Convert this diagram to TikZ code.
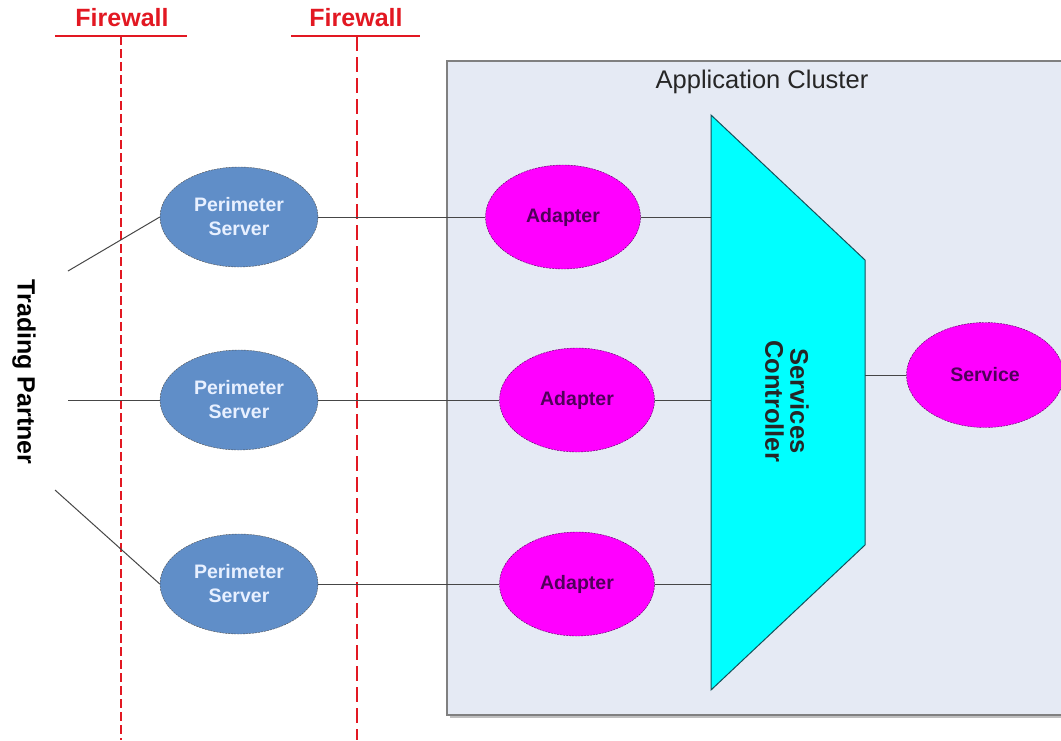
\documentclass[tikz,border=0pt]{standalone}
\usepackage{fontspec}
\setmainfont{Liberation Sans}
\usetikzlibrary{shapes.geometric}
\definecolor{fwred}{RGB}{226,24,34}
\definecolor{perifill}{RGB}{96,142,200}
\definecolor{peritext}{RGB}{232,240,255}
\definecolor{adfill}{RGB}{255,0,255}
\definecolor{adtext}{RGB}{80,0,90}
\definecolor{clfill}{RGB}{229,234,244}
\definecolor{clborder}{RGB}{128,128,128}
\definecolor{ctrlfill}{RGB}{0,255,255}
\definecolor{ctrlborder}{RGB}{20,80,90}
\definecolor{wire}{RGB}{70,70,70}
\tikzset{
  peri/.style={ellipse, draw=black!70, dash pattern=on 2pt off 1pt, fill=perifill,
    minimum width=158, minimum height=100, inner sep=0pt, text=peritext, align=center,
    font=\bfseries\fontsize{19.5}{24}\selectfont},
  adapt/.style={ellipse, draw=adtext, dash pattern=on 2pt off 1pt, fill=adfill,
    minimum width=155, minimum height=104, inner sep=0pt, text=adtext,
    font=\bfseries\fontsize{19.5}{24}\selectfont},
  wireline/.style={draw=wire, line width=1},
  fwlabel/.style={text=fwred, font=\bfseries\fontsize{25}{28}\selectfont},
}
\begin{document}
\begin{tikzpicture}[x=1pt,y=-1pt]
\useasboundingbox (0,0) rectangle (1061,740);
% cluster
\fill[black!25] (450,64) rectangle (1070,718);
\draw[draw=clborder, line width=1.5, fill=clfill] (447,61) rectangle (1070,715);
\node[font=\fontsize{25.5}{28}\selectfont, text=black!85] (cltitle) at (762,82) {Application Cluster};
% firewalls
\node[fwlabel] (fw1) at (122,18) {Firewall};
\node[fwlabel] (fw2) at (356,18) {Firewall};
\coordinate (fw1a) at (55,36); \coordinate (fw1b) at (187,36);
\coordinate (fw2a) at (291,36); \coordinate (fw2b) at (420,36);
\draw[fwred, line width=1.5] (fw1a) -- (fw1b);
\draw[fwred, line width=1.5] (fw2a) -- (fw2b);
\coordinate (fw1t) at (121,36); \coordinate (fw1e) at (121,740);
\coordinate (fw2t) at (357,36); \coordinate (fw2e) at (357,740);
\draw[fwred, line width=1.2, dash pattern=on 9pt off 4pt] (fw1t) -- (fw1e);
\draw[fwred, line width=2.5, dash pattern=on 15pt off 6pt] (fw2t) -- (fw2e);
% trading partner
\node[rotate=-90, font=\bfseries\fontsize{25}{28}\selectfont] (tp) at (24,372) {Trading Partner};
% perimeter servers
\node[peri] (p1) at (239,217) {Perimeter\\Server};
\node[peri] (p2) at (239,400) {Perimeter\\Server};
\node[peri] (p3) at (239,584) {Perimeter\\Server};
% adapters
\node[adapt] (a1) at (563,217) {Adapter};
\node[adapt] (a2) at (577,400) {Adapter};
\node[adapt] (a3) at (577,584) {Adapter};
% controller
\coordinate (c1) at (711,115);
\coordinate (c2) at (865,260);
\coordinate (c3) at (865,545);
\coordinate (c4) at (711,690);
\draw[draw=ctrlborder, line width=1, fill=ctrlfill] (c1) -- (c2) -- (c3) -- (c4) -- cycle;
\node[rotate=-90, align=center, font=\bfseries\fontsize{25.5}{25}\selectfont, text=black!85] (ctrl) at (787,401) {Services\\Controller};
% service
\node[adapt, minimum width=157, minimum height=105] (svc) at (985,375) {Service};
% connectors
\coordinate (t1) at (68,271);
\coordinate (t2) at (68,400);
\coordinate (t3) at (55,490);
\draw[wireline] (t1) -- (p1.west);
\draw[wireline] (t2) -- (p2.west);
\draw[wireline] (t3) -- (p3.west);
\draw[wireline] (p1.east) -- (a1.west);
\draw[wireline] (p2.east) -- (a2.west);
\draw[wireline] (p3.east) -- (a3.west);
\coordinate (k1) at (711,217);
\coordinate (k2) at (711,400);
\coordinate (k3) at (711,584);
\coordinate (k4) at (865,375);
\draw[wireline] (a1.east) -- (k1);
\draw[wireline] (a2.east) -- (k2);
\draw[wireline] (a3.east) -- (k3);
\draw[wireline] (k4) -- (svc.west);
\end{tikzpicture}
\end{document}
